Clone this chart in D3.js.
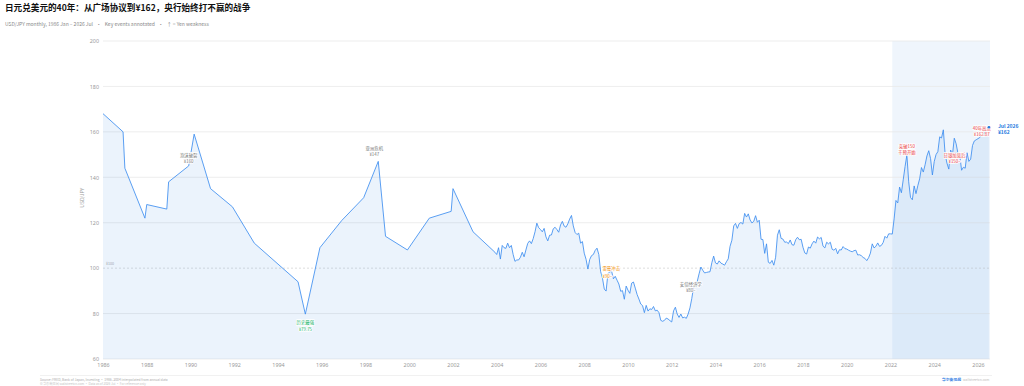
<!DOCTYPE html>
<html>
<head>
<meta charset="utf-8">
<script src="https://cdn.jsdelivr.net/npm/d3@7"></script>
<style>
  body { margin: 0; background: #fff; }
  svg text { font-family: "Noto Sans CJK SC", "Noto Sans", sans-serif; }
</style>
</head>
<body>
<div id="chart"></div>
<script>
// key points 1986-2003 (annual data, interpolated)
var keyDates = ["1986-01","1986-12","1987-01","1987-12","1988-01","1988-12","1989-01","1989-12",
  "1990-03","1990-12","1991-12","1992-12","1994-12","1995-04","1995-12","1996-12","1997-12",
  "1998-08","1998-12","1999-12","2000-12","2001-12","2002-01","2002-12","2003-12"];
var keyValues = [168,160,144,122,128,126,138,145,
  159,135,127,111,94,79.75,109,121,131,
  147,114,108,122,125,135,116,107];

// monthly closes from 2004 Jan
var monthlyStart = "2004-01";
var monthlyValues = [
  106.0,109.0,104.0,110.0,109.0,108.7,111.0,109.0,110.0,106.0,103.0,103.6, // 2004
  103.6,104.8,107.0,105.0,108.0,110.9,112.0,110.8,113.0,116.0,119.8,117.8, // 2005
  117.0,116.0,117.5,113.8,112.0,114.5,114.6,117.3,118.0,117.0,115.8,119.0, // 2006
  120.6,118.5,118.0,119.5,121.6,123.2,118.6,115.7,114.8,115.4,111.0,111.7, // 2007
  106.6,103.9,99.6,103.8,105.5,106.0,107.8,108.8,106.0,98.5,95.6,90.8,     // 2008
  89.9,97.6,98.3,98.7,95.3,96.4,94.7,93.0,89.8,90.1,86.3,92.1,             // 2009
  90.3,88.9,93.4,93.9,91.2,88.4,86.4,84.2,83.5,80.4,83.6,81.1,             // 2010
  82.1,81.8,83.1,81.2,81.5,80.4,77.0,76.6,77.0,78.0,77.6,76.9,             // 2011
  76.3,81.2,82.8,79.8,78.3,79.8,78.1,78.4,77.9,79.8,82.5,86.6,             // 2012
  91.7,92.6,94.2,97.5,100.5,99.1,97.9,98.1,98.3,98.4,102.4,105.3,          // 2013
  102.3,101.8,103.2,102.2,101.8,101.3,102.8,104.1,109.6,112.3,118.6,119.7, // 2014
  117.5,119.6,120.1,119.4,124.1,122.5,123.9,121.2,119.9,120.6,123.1,120.2, // 2015
  121.1,112.7,112.6,106.5,110.7,102.6,102.1,103.4,101.3,104.8,114.5,116.9, // 2016
  113.1,112.8,111.4,111.5,110.8,112.4,110.3,110.1,112.5,113.6,112.5,112.7, // 2017
  109.2,106.7,106.2,109.3,108.8,110.7,111.9,111.0,113.7,112.9,113.5,109.7, // 2018
  108.9,111.4,110.7,111.4,108.3,107.9,108.7,106.3,108.1,108.0,109.5,108.6, // 2019
  108.4,107.9,107.5,107.2,107.7,107.9,105.8,105.9,105.5,104.7,104.3,103.3, // 2020
  104.6,106.6,110.7,108.9,109.6,111.1,109.6,110.0,111.3,114.0,113.2,115.1, // 2021
  115.1,115.0,121.7,129.8,128.7,135.7,133.2,138.9,144.7,149.8,138.0,131.1, // 2022
  130.1,136.2,132.8,136.3,139.3,144.3,142.3,145.5,149.4,151.7,148.2,141.0, // 2023
  146.9,150.0,151.3,157.8,157.3,160.9,150.0,146.2,143.6,152.0,149.8,157.2, // 2024
  154.8,150.6,149.9,143.1,144.4,144.0,150.8,147.0,148.0,154.0,156.0,156.5, // 2025
  157.0,157.5,158.5,159.0,160.0,161.0,162.0                                // 2026
];

var yTicks = [60,80,100,120,140,160,180,200];
var xTicks = d3.range(1986, 2027, 2);

// annotations: label, sub label, date, value on curve
var annoLabels = ["泡沫破裂","亚洲危机","历史最强","雷曼冲击","安倍经济学","突破150","日银加息后","40年高点"];
var annoSubs   = ["¥160","¥147","¥79.75","¥90~","¥80~","干预开始","¥150~","¥162.87"];
var annoDates  = ["1989-12","1998-08","1995-04","2008-11","2012-12","2022-10","2025-04","2026-02"];
var annoValues = [145,147,79.75,100,80,149.8,143.1,157.5];

var highlightStart = "2022-02";

function toYear(s) {
  var p = s.split("-");
  return +p[0] + (+p[1] - 1) / 12;
}

var series = keyDates.map(function(d, i) { return {t: toYear(d), v: keyValues[i]}; });
var t0 = toYear(monthlyStart);
monthlyValues.forEach(function(v, i) { series.push({t: t0 + i / 12, v: v}); });
var last = series[series.length - 1];

var svg = d3.select("#chart").append("svg")
    .attr("width", 1024)
    .attr("height", 386);

var x = d3.scaleLinear().domain([1986, 2026.55]).range([103, 990]);
var y = d3.scaleLinear().domain([60, 200]).range([359, 41]);

// title
svg.append("text").attr("x", 5).attr("y", 11)
    .attr("font-size", 8.6).attr("font-weight", 700).attr("fill", "#111")
    .text("日元兑美元的40年：从广场协议到¥162，央行始终打不赢的战争");
svg.append("text").attr("x", 5).attr("y", 26)
    .attr("font-size", 5).attr("fill", "#888")
    .attr("xml:space", "preserve")
    .text("USD/JPY monthly, 1986 Jan – 2026 Jul   ·   Key events annotated   ·   ↑ = Yen weakness");

// highlight band
svg.append("rect")
    .attr("x", x(toYear(highlightStart)))
    .attr("y", y(200))
    .attr("width", x(2026.55) - x(toYear(highlightStart)))
    .attr("height", y(60) - y(200))
    .attr("fill", "#4a90e2").attr("fill-opacity", 0.09);

// grid
svg.append("g").selectAll("line")
    .data(yTicks.filter(function(d) { return d !== 100; }))
    .enter().append("line")
    .attr("x1", x(1986)).attr("x2", x(2026.55))
    .attr("y1", function(d) { return y(d); })
    .attr("y2", function(d) { return y(d); })
    .attr("stroke", "#e9e9e9").attr("stroke-width", 0.8);

svg.append("line")
    .attr("x1", x(1986)).attr("x2", x(2026.55))
    .attr("y1", y(100)).attr("y2", y(100))
    .attr("stroke", "#cfcfcf").attr("stroke-width", 0.7)
    .attr("stroke-dasharray", "2,2");
svg.append("text").attr("x", x(1986) + 3).attr("y", y(100) - 3)
    .attr("font-size", 3.6).attr("fill", "#aaa").text("¥100");

// area + line
var area = d3.area()
    .x(function(d) { return x(d.t); })
    .y0(y(60))
    .y1(function(d) { return y(d.v); });
var line = d3.line()
    .x(function(d) { return x(d.t); })
    .y(function(d) { return y(d.v); });

svg.append("path").datum(series)
    .attr("d", area)
    .attr("fill", "#4a90e2").attr("fill-opacity", 0.11);
svg.append("path").datum(series)
    .attr("d", line)
    .attr("fill", "none").attr("stroke", "#3d8ef0").attr("stroke-width", 0.85);

// axes
var yAxis = svg.append("g")
    .attr("transform", "translate(" + (x(1986) - 4) + ",0)")
    .call(d3.axisLeft(y).tickValues(yTicks).tickSize(0).tickPadding(0));
var xAxis = svg.append("g")
    .attr("transform", "translate(0," + y(60) + ")")
    .call(d3.axisBottom(x).tickValues(xTicks).tickFormat(d3.format("d")).tickSize(0).tickPadding(4));
[xAxis, yAxis].forEach(function(a) {
  a.select(".domain").remove();
  a.selectAll("text").attr("font-size", 5.4).attr("fill", "#999")
    .style("font-family", "'Noto Sans', sans-serif");
});
svg.append("text")
    .attr("transform", "translate(84," + y(131) + ") rotate(-90)")
    .attr("text-anchor", "middle").attr("font-size", 5).attr("fill", "#999")
    .text("USD/JPY");

// annotations
var annoStyle = [
  {c: "#777", dx: 0, dy: -9, anchor: "middle", gap: 6},
  {c: "#777", dx: -4, dy: -11, anchor: "middle", gap: 6},
  {c: "#19b36b", dx: 0, dy: 10, anchor: "middle", gap: 6.5},
  {c: "#f08c00", dx: 0, dy: 2, anchor: "start", gap: 8},
  {c: "#777", dx: -1, dy: -28, anchor: "middle", gap: 6.5},
  {c: "#e8383d", dx: 0, dy: -7, anchor: "middle", gap: 6},
  {c: "#e8383d", dx: -7, dy: -13, anchor: "middle", gap: 6},
  {c: "#e8383d", dx: 2, dy: -8, anchor: "middle", gap: 6.5}
];

var ann = svg.append("g").selectAll("g")
    .data(annoLabels)
    .enter().append("g")
    .attr("transform", function(d, i) {
      return "translate(" + (x(toYear(annoDates[i])) + annoStyle[i].dx) + "," + (y(annoValues[i]) + annoStyle[i].dy) + ")";
    });
ann.append("text")
    .attr("text-anchor", function(d, i) { return annoStyle[i].anchor; })
    .attr("font-size", 4.4)
    .attr("fill", function(d, i) { return annoStyle[i].c; })
    .attr("stroke", "#fff").attr("stroke-width", 1.4).attr("paint-order", "stroke")
    .text(function(d) { return d; });
ann.append("text")
    .attr("y", function(d, i) { return annoStyle[i].gap; })
    .attr("text-anchor", function(d, i) { return annoStyle[i].anchor; })
    .attr("font-size", 4.4)
    .attr("fill", function(d, i) { return annoStyle[i].c; })
    .attr("stroke", "#fff").attr("stroke-width", 1.4).attr("paint-order", "stroke")
    .text(function(d, i) { return annoSubs[i]; });

// end label
svg.append("circle")
    .attr("cx", x(last.t)).attr("cy", y(last.v)).attr("r", 1.3)
    .attr("fill", "#1f7ae0");
svg.append("text").attr("x", x(last.t) + 9).attr("y", y(last.v) + 1)
    .attr("font-size", 5).attr("font-weight", 700).attr("fill", "#1f7ae0")
    .text("Jul 2026");
svg.append("text").attr("x", x(last.t) + 9).attr("y", y(last.v) + 7)
    .attr("font-size", 5).attr("font-weight", 700).attr("fill", "#1f7ae0")
    .text("¥" + last.v);

// footer
svg.append("line").attr("x1", 40).attr("x2", 992).attr("y1", 375.5).attr("y2", 375.5)
    .attr("stroke", "#eee").attr("stroke-width", 0.8);
svg.append("text").attr("x", 40).attr("y", 381)
    .attr("font-size", 3.3).attr("fill", "#aaa")
    .text("Source: FRED, Bank of Japan, Investing   ·   1986–2004 interpolated from annual data");
svg.append("text").attr("x", 40).attr("y", 385)
    .attr("font-size", 3.1).attr("fill", "#c4c4c4")
    .text("© 华尔街见闻 wallstreetcn.com   ·   Data as of 2026 Jul   ·   For reference only");
svg.append("text").attr("x", 942).attr("y", 381)
    .attr("font-size", 3.8).attr("font-weight", 700).attr("fill", "#2a7ae2")
    .text("华尔街见闻");
svg.append("text").attr("x", 963).attr("y", 381)
    .attr("font-size", 3.3).attr("fill", "#bbb")
    .text("wallstreetcn.com");
</script>
</body>
</html>
